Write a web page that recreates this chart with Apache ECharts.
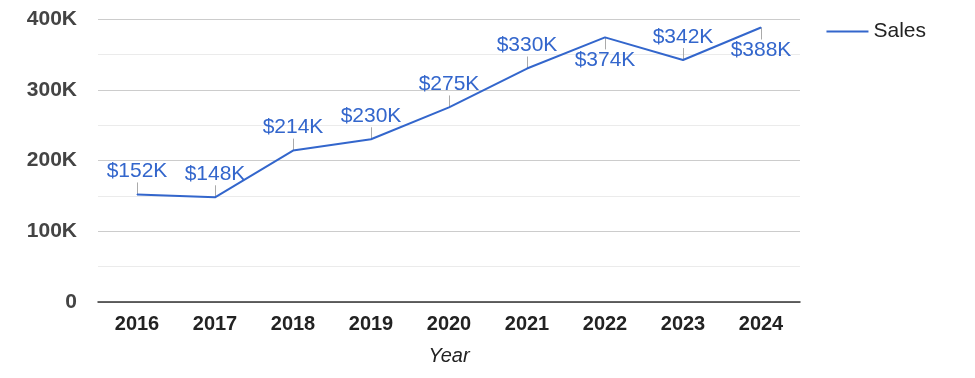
<!DOCTYPE html>
<html>
<head>
<meta charset="utf-8">
<script src="https://cdn.jsdelivr.net/npm/echarts@6/dist/echarts.min.js"></script>
<style>html,body{margin:0;padding:0;background:#fff}#c{width:975px;height:378px}</style>
</head>
<body>
<div id="c"></div>
<script>
const years = ['2016','2017','2018','2019','2020','2021','2022','2023','2024'];
const sales = [152, 148, 214, 230, 275, 330, 374, 342, 388]; // thousands
const labelSide = ['top','top','top','top','top','top','bottom','top','bottom'];
const yTicks = [0, 100, 200, 300, 400];

const chart = echarts.init(document.getElementById('c'));
const font = '"Liberation Sans", Arial, sans-serif';
chart.setOption({
  animation: false,
  textStyle: { fontFamily: font },
  legend: {
    right: 44, top: 16, itemWidth: 42, itemHeight: 2, itemGap: 10,
    icon: 'rect',
    textStyle: { fontSize: 21, color: '#222', fontFamily: font },
    data: ['Sales']
  },
  grid: { left: 98, right: 175, top: 19, bottom: 76 },
  xAxis: {
    type: 'category', data: years, boundaryGap: true,
    name: 'Year', nameLocation: 'middle', nameGap: 44,
    nameTextStyle: { fontSize: 20, fontStyle: 'italic', color: '#222', fontFamily: font },
    axisLine: { show: true, lineStyle: { color: '#333', width: 1.5 } },
    axisTick: { show: false },
    axisLabel: { fontSize: 20, fontWeight: 'bold', color: '#222', margin: 12, fontFamily: font }
  },
  yAxis: {
    type: 'value', min: yTicks[0], max: yTicks[yTicks.length - 1], interval: 100,
    axisLine: { show: false }, axisTick: { show: false },
    axisLabel: { fontSize: 21, fontWeight: 'bold', color: '#444', margin: 21, fontFamily: font,
      formatter: v => v === 0 ? '0' : v + 'K' },
    splitLine: { lineStyle: { color: '#cccccc' } },
    minorTick: { show: false, splitNumber: 2 },
    minorSplitLine: { show: true, lineStyle: { color: '#ebebeb' } }
  },
  series: [{
    name: 'leaders', type: 'custom', z: 1, silent: true,
    data: sales.map((v, i) => [i, v, labelSide[i] === 'top' ? -1 : 1]),
    encode: { x: 0, y: 1 },
    renderItem: (params, api) => {
      const p = api.coord([api.value(0), api.value(1)]);
      const dir = api.value(2);
      return {
        type: 'line',
        shape: { x1: Math.round(p[0]) + 0.5, y1: p[1], x2: Math.round(p[0]) + 0.5, y2: p[1] + dir * 12 },
        style: { stroke: '#aaaaaa', lineWidth: 1 }
      };
    }
  }, {
    name: 'Sales', type: 'line', z: 3,
    data: sales.map((v, i) => ({ value: v, label: { position: labelSide[i] } })),
    symbol: 'circle', symbolSize: 1, showSymbol: true,
    itemStyle: { color: '#3366cc' },
    lineStyle: { color: '#3366cc', width: 2 },
    label: {
      show: true, distance: 12, fontSize: 21, color: '#3366cc', fontFamily: font,
      formatter: p => '$' + p.value + 'K'
    }
  }]
});
</script>
</body>
</html>
